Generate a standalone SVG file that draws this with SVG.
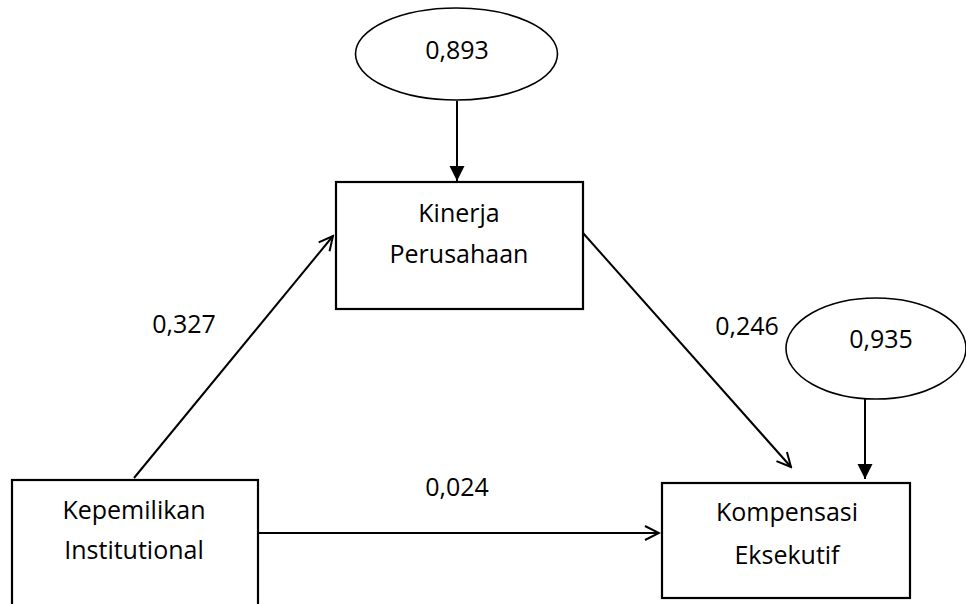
<svg xmlns="http://www.w3.org/2000/svg" width="966" height="604" viewBox="0 0 966 604">
<style>
.box{fill:#fff;stroke:#000;stroke-width:2.2}
.ell{fill:#fff;stroke:#000;stroke-width:1.6}
.t{font-family:"Open Sans","Liberation Sans",sans-serif;font-size:25px;fill:#000;text-anchor:middle}
.c{stroke:#000;stroke-width:2;fill:none}
</style>
<defs>
<marker id="open" viewBox="0 0 20 20" refX="18" refY="10" markerWidth="20" markerHeight="20" markerUnits="userSpaceOnUse" orient="auto">
<path d="M4,3 L18,10 L4,17" fill="none" stroke="#000" stroke-width="2"/>
</marker>
<marker id="solid" viewBox="0 0 16 16" refX="15" refY="8" markerWidth="16" markerHeight="16" markerUnits="userSpaceOnUse" orient="auto">
<path d="M0,0.5 L15,8 L0,15.5 Z" fill="#000"/>
</marker>
</defs>
<rect width="966" height="604" fill="#fff"/>
<g id="connectors">
<line class="c" x1="457" y1="101" x2="457" y2="181" marker-end="url(#solid)"/>
<line class="c" x1="865" y1="399" x2="865" y2="479" marker-end="url(#solid)"/>
<line class="c" x1="134" y1="478" x2="333" y2="236" marker-end="url(#open)"/>
<line class="c" x1="583" y1="233" x2="791" y2="467" marker-end="url(#open)"/>
<line class="c" x1="258" y1="533" x2="659" y2="533" marker-end="url(#open)"/>
</g>
<g id="e1">
<ellipse class="ell" cx="456.5" cy="54" rx="101" ry="46"/>
<text class="t" x="457" y="59">0,893</text>
</g>
<g id="e2">
<ellipse class="ell" cx="876" cy="348.5" rx="90" ry="50.5"/>
<text class="t" x="881" y="348">0,935</text>
</g>
<g id="kinerja">
<rect class="box" x="336" y="182" width="247" height="127"/>
<text class="t" x="459" y="222">Kinerja</text>
<text class="t" x="459" y="263">Perusahaan</text>
</g>
<g id="kepemilikan">
<rect class="box" x="12" y="480" width="246" height="140"/>
<text class="t" x="134" y="519">Kepemilikan</text>
<text class="t" x="134" y="559">Institutional</text>
</g>
<g id="kompensasi">
<rect class="box" x="662" y="483" width="248" height="115"/>
<text class="t" x="787" y="521">Kompensasi</text>
<text class="t" x="787" y="564">Eksekutif</text>
</g>
<g id="labels">
<text class="t" x="184" y="333">0,327</text>
<text class="t" x="747" y="335">0,246</text>
<text class="t" x="457" y="496">0,024</text>
</g>
</svg>
